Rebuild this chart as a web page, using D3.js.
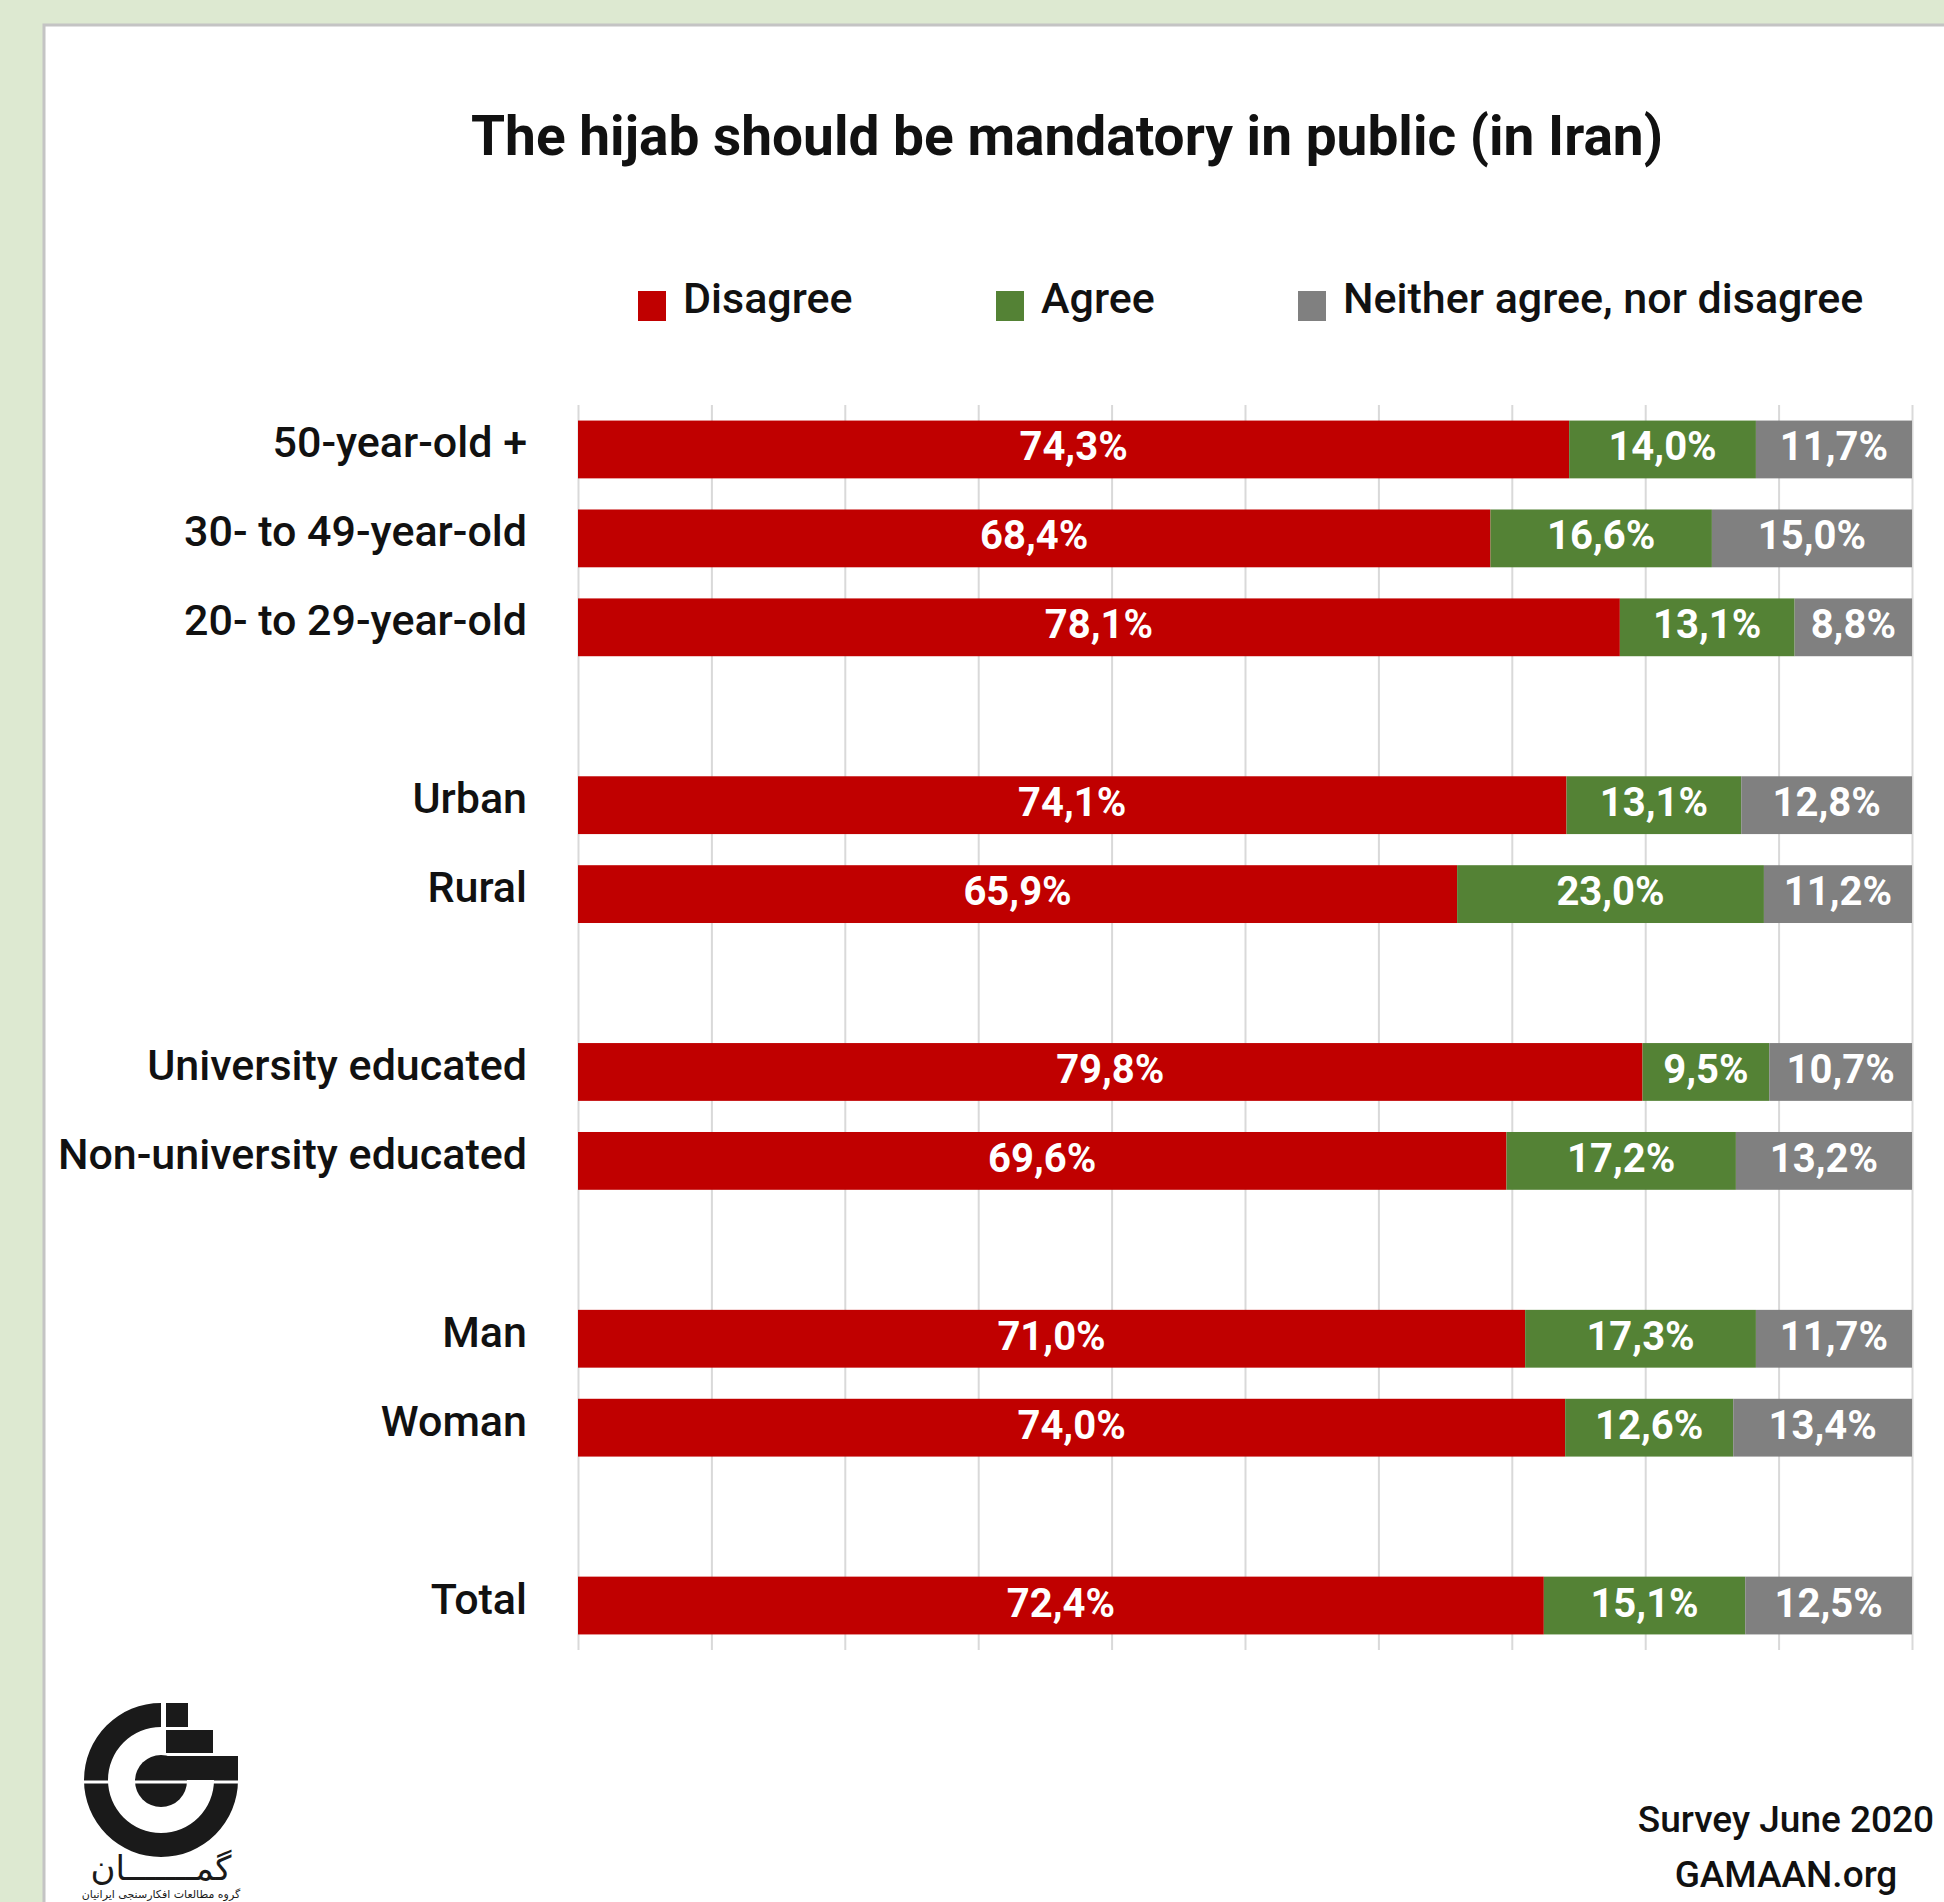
<!DOCTYPE html>
<html>
<head>
<meta charset="utf-8">
<script src="https://cdn.jsdelivr.net/npm/d3@7"></script>
<style>
  body { margin: 0; background: #dde9d1; }
  text { font-family: Roboto, "Noto Sans", sans-serif; }
</style>
</head>
<body>
<div id="chart"></div>
<script>
// canvas size
var width = 1944;
var height = 1902;

// data
var categories = ["50-year-old +", "30- to 49-year-old", "20- to 29-year-old",
  "Urban", "Rural", "University educated", "Non-university educated",
  "Man", "Woman", "Total"];
var groups = ["age", "age", "age", "area", "area", "edu", "edu", "sex", "sex", "total"];
var disagree = [74.3, 68.4, 78.1, 74.1, 65.9, 79.8, 69.6, 71.0, 74.0, 72.4];
var agree = [14.0, 16.6, 13.1, 13.1, 23.0, 9.5, 17.2, 17.3, 12.6, 15.1];
var neither = [11.7, 15.0, 8.8, 12.8, 11.2, 10.7, 13.2, 11.7, 13.4, 12.5];
var seriesNames = ["Disagree", "Agree", "Neither agree, nor disagree"];
var xTicks = [0, 10, 20, 30, 40, 50, 60, 70, 80, 90, 100];

var colors = ["#c00000", "#548235", "#808080"];

// rows with a blank slot between groups
var slots = [];
categories.forEach(function(c, i) {
  if (i > 0 && groups[i] != groups[i - 1]) slots.push("gap" + i);
  slots.push(c);
});

var rows = categories.map(function(c, i) {
  return { cat: c, Disagree: disagree[i], Agree: agree[i], "Neither agree, nor disagree": neither[i] };
});

var svg = d3.select("#chart")
  .append("svg")
    .attr("width", width)
    .attr("height", height);

// white panel with grey edge
svg.append("rect")
  .attr("x", 44).attr("y", 25)
  .attr("width", width).attr("height", height)
  .attr("fill", "white")
  .attr("stroke", "#c4c4c4")
  .attr("stroke-width", 3);

svg.append("text")
  .attr("x", 1067).attr("y", 155)
  .attr("text-anchor", "middle")
  .style("font-size", "55px")
  .style("font-weight", 700)
  .attr("fill", "#111")
  .text("The hijab should be mandatory in public (in Iran)");

var x = d3.scaleLinear().domain([0, 100]).range([578, 1912]).clamp(true);
var y = d3.scaleBand().domain(slots).range([405, 1650]).paddingInner(0.35).paddingOuter(0.175);

// vertical grid
svg.append("g")
  .attr("transform", "translate(0,1650)")
  .call(d3.axisBottom(x).tickValues(xTicks).tickSize(-1245).tickFormat(""))
  .call(function(g) { g.select(".domain").remove(); })
  .selectAll("line")
    .attr("stroke", "#d9d9d9")
    .attr("stroke-width", 2);

// legend
var legendX = [638, 996, 1298];
var legend = svg.selectAll("legendItem")
  .data(seriesNames)
  .enter()
  .append("g")
    .attr("transform", function(d, i) { return "translate(" + legendX[i] + ",0)"; });
legend.append("rect")
  .attr("x", 0).attr("y", 291)
  .attr("width", 28).attr("height", 30)
  .attr("fill", function(d, i) { return colors[i]; });
legend.append("text")
  .attr("x", 45).attr("y", 313)
  .style("font-size", "43px")
  .style("font-weight", 500)
  .attr("fill", "#111")
  .text(function(d) { return d; });

// stacked bars
var stack = d3.stack().keys(seriesNames);
var stacked = stack(rows);

var layer = svg.selectAll("layer")
  .data(stacked)
  .enter()
  .append("g")
    .attr("fill", function(d, i) { return colors[i]; });

layer.selectAll("rect")
  .data(function(d) { return d; })
  .enter()
  .append("rect")
    .attr("x", function(d) { return x(d[0]); })
    .attr("y", function(d) { return y(d.data.cat); })
    .attr("width", function(d) { return x(d[1]) - x(d[0]); })
    .attr("height", y.bandwidth());

layer.selectAll("text")
  .data(function(d) { return d.map(function(p) { p.key = d.key; return p; }); })
  .enter()
  .append("text")
    .attr("x", function(d) { return (x(d[0]) + x(d[1])) / 2; })
    .attr("y", function(d) { return y(d.data.cat) + y.bandwidth() / 2 - 3; })
    .attr("dy", "0.35em")
    .attr("text-anchor", "middle")
    .attr("fill", "white")
    .style("font-size", "40px")
    .style("font-weight", 700)
    .text(function(d) { return d.data[d.key].toFixed(1).replace(".", ",") + "%"; });

// category labels
svg.selectAll("catLabel")
  .data(categories)
  .enter()
  .append("text")
    .attr("x", 527)
    .attr("y", function(d) { return y(d) + y.bandwidth() / 2 + 8; })
    .attr("text-anchor", "end")
    .style("font-size", "43px")
    .style("font-weight", 500)
    .attr("fill", "#111")
    .text(function(d) { return d; });

// source
svg.append("text")
  .attr("x", 1786).attr("y", 1832)
  .attr("text-anchor", "middle")
  .style("font-size", "37px")
  .style("font-weight", 500)
  .attr("fill", "#111")
  .text("Survey June 2020");
svg.append("text")
  .attr("x", 1786).attr("y", 1887)
  .attr("text-anchor", "middle")
  .style("font-size", "37px")
  .style("font-weight", 500)
  .attr("fill", "#111")
  .text("GAMAAN.org");

// GAMAAN logo
var logo = svg.append("g").attr("fill", "#1a1a1a");
var cx = 161, cy = 1780;
logo.append("path")
  .attr("transform", "translate(" + cx + "," + cy + ")")
  .attr("d", d3.arc().innerRadius(53).outerRadius(77).startAngle(Math.PI / 2).endAngle(2 * Math.PI)());
logo.append("circle").attr("cx", cx).attr("cy", cy + 1).attr("r", 26);
logo.append("rect").attr("x", 166).attr("y", 1703).attr("width", 22).attr("height", 24);
logo.append("rect").attr("x", 166).attr("y", 1730).attr("width", 47).attr("height", 23);
logo.append("rect").attr("x", 166).attr("y", 1756).attr("width", 72).attr("height", 24);
logo.append("line")
  .attr("x1", 84).attr("x2", 242)
  .attr("y1", 1782).attr("y2", 1782)
  .attr("stroke", "white").attr("stroke-width", 3);
logo.append("text")
  .attr("x", cx).attr("y", 1880)
  .attr("text-anchor", "middle")
  .style("font-family", "'DejaVu Sans'")
  .style("font-size", "34px")
  .text("گمـــــــان");
logo.append("text")
  .attr("x", cx).attr("y", 1898)
  .attr("text-anchor", "middle")
  .style("font-family", "'DejaVu Sans'")
  .style("font-size", "11px")
  .text("گروه مطالعات افکارسنجی ایرانیان");
</script>
</body>
</html>
